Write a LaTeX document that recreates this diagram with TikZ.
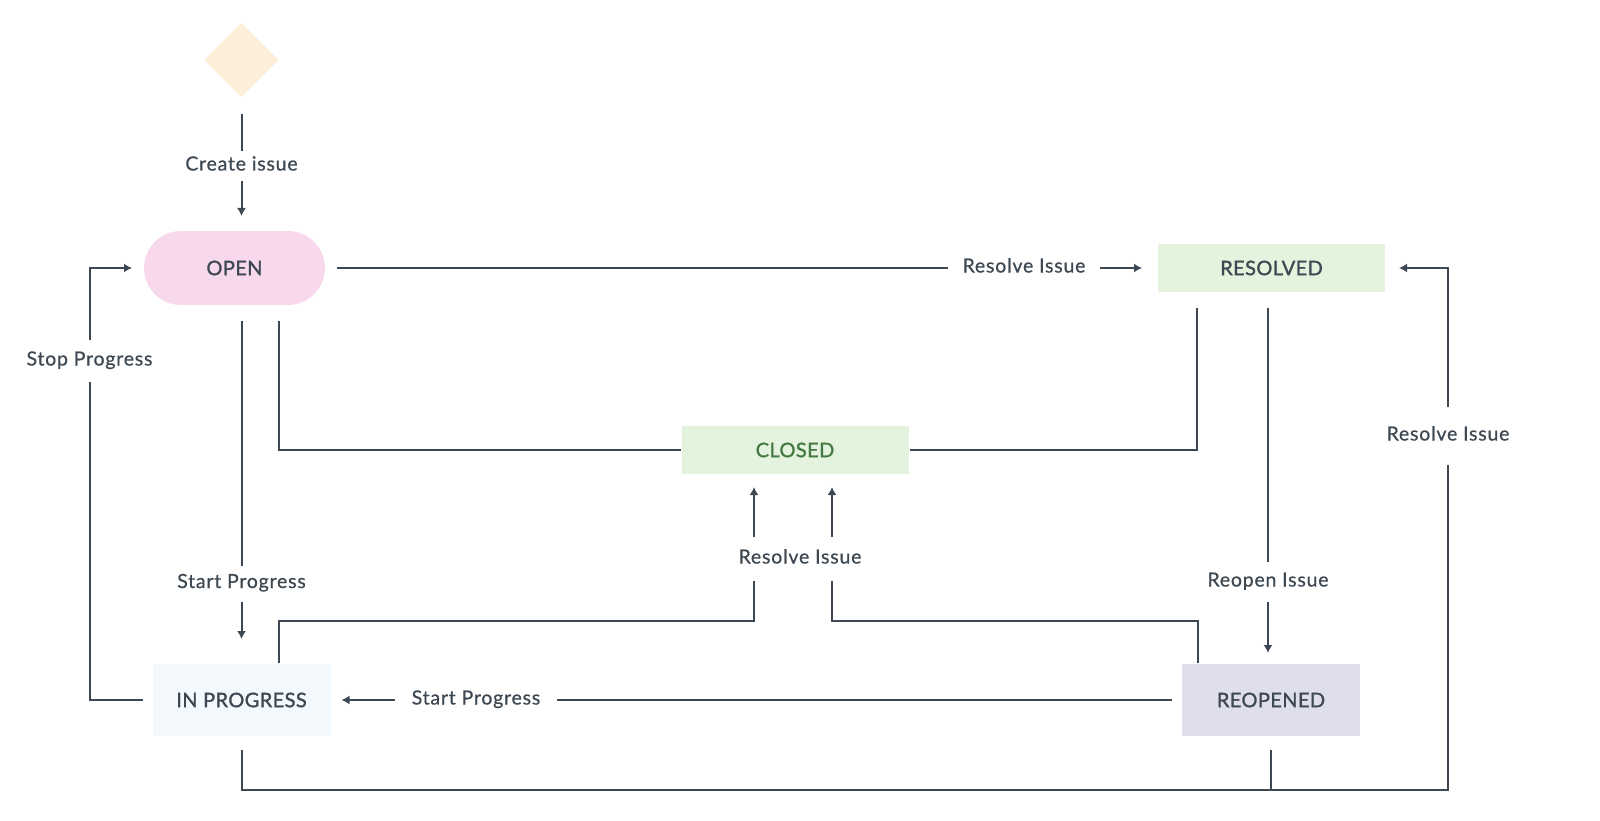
\documentclass[tikz,border=0pt]{standalone}
\usepackage{fontspec}
\setmainfont{Lato}
\newfontfamily\lblfont{Lato}[LetterSpace=4,FakeBold=0.6]
\newfontfamily\statefont{Lato}[LetterSpace=2,FakeBold=1.3]
\usetikzlibrary{arrows.meta,shapes.geometric}
\definecolor{ink}{HTML}{3D4852}
\definecolor{startpeach}{HTML}{FDEEDA}
\definecolor{openpink}{HTML}{F8D8EC}
\definecolor{donegreen}{HTML}{E3F3DE}
\definecolor{closedgreen}{HTML}{467A44}
\definecolor{progblue}{HTML}{F3F9FD}
\definecolor{reopenlilac}{HTML}{DFDFEC}
\begin{document}
\begin{tikzpicture}[x=1pt,y=-1pt,>={Latex[length=8pt,width=9pt]},color=ink,line width=2pt,
  statebox/.style={rectangle,inner sep=0pt,minimum width=178pt,minimum height=72pt,font=\statefont\fontsize{20}{24}\selectfont},
  edgelbl/.style={inner xsep=14pt,inner ysep=5.5pt,text height=13pt,text depth=4pt,font=\lblfont\fontsize{19.5}{23}\selectfont}]
\useasboundingbox (0,0) rectangle (1600,821);

% states
\node (start) at (241.5,60)[diamond,aspect=1,fill=startpeach,minimum width=75pt,minimum height=75pt,inner sep=0pt]{};
\node (open) at (234.5,268)[statebox,minimum width=181pt,minimum height=74pt,rounded corners=37pt,fill=openpink]{OPEN};
\node (resolved) at (1271.5,268)[statebox,minimum width=227pt,minimum height=48pt,fill=donegreen]{RESOLVED};
\node (closed) at (795,450)[statebox,minimum width=227pt,minimum height=48pt,fill=donegreen,text=closedgreen]{CLOSED};
\node (inprog) at (241.5,700)[statebox,fill=progblue]{IN PROGRESS};
\node (reopened) at (1271,700)[statebox,fill=reopenlilac]{REOPENED};

% transition labels
\node (create) at (241.5,166)[edgelbl]{Create issue};
\node (resolve1) at (1024,268)[edgelbl]{Resolve Issue};
\node (stop) at (89.5,361)[edgelbl,inner ysep=11.5pt]{Stop Progress};
\node (start1) at (241.5,583.5)[edgelbl,inner ysep=8.5pt]{Start Progress};
\node (start2) at (476,700)[edgelbl,inner xsep=16pt]{Start Progress};
\node (resolve2) at (800,559)[edgelbl,inner ysep=12.5pt]{Resolve Issue};
\node (reopen) at (1268,582)[edgelbl,inner ysep=10.5pt]{Reopen Issue};
\node (resolve3) at (1448,436)[edgelbl,inner ysep=19.5pt]{Resolve Issue};

\coordinate (jl) at (754,621);
\coordinate (jr) at (832,621);
\coordinate (loop) at (1448,790);

% transitions
\draw[shorten <=16pt] (start) -- (create);
\draw[->,shorten >=14pt] (create) -- (create |- open.north);
\draw[shorten <=11pt] (open) -- (resolve1);
\draw[->,shorten >=15pt] (resolve1) -- (resolved);
\draw[shorten <=15pt] ([xshift=44.5pt]open.south) |- (closed);
\draw[shorten <=15pt] (start1 |- open.south) -- (start1);
\draw[->,shorten >=24pt] (start1) -- (inprog);
\draw[shorten <=15pt] ([xshift=-75pt]resolved.south) |- (closed);
\draw[shorten <=15pt] (reopen |- resolved.south) -- (reopen);
\draw[->,shorten >=10pt] (reopen) -- (reopen |- reopened.north);
\draw[shorten <=9pt] (inprog) -| (stop);
\draw[->,shorten >=11pt] (stop) |- (open);
\draw ([xshift=37.5pt]inprog.north) |- (jl) -- (jl |- resolve2.south);
\draw[->,shorten >=12pt] (jl |- resolve2.north) -- (jl |- closed.south);
\draw ([xshift=-73pt]reopened.north) |- (jr) -- (jr |- resolve2.south);
\draw[->,shorten >=12pt] (jr |- resolve2.north) -- (jr |- closed.south);
\draw[shorten <=9pt] (reopened) -- (start2);
\draw[->,shorten >=10pt] (start2) -- (inprog);
\draw[shorten <=13pt] (inprog.south) |- (loop) -- (resolve3);
\draw[shorten <=13pt] (reopened.south) -- (reopened.south |- loop);
\draw[->,shorten >=13pt] (resolve3) |- (resolved);
\end{tikzpicture}
\end{document}
